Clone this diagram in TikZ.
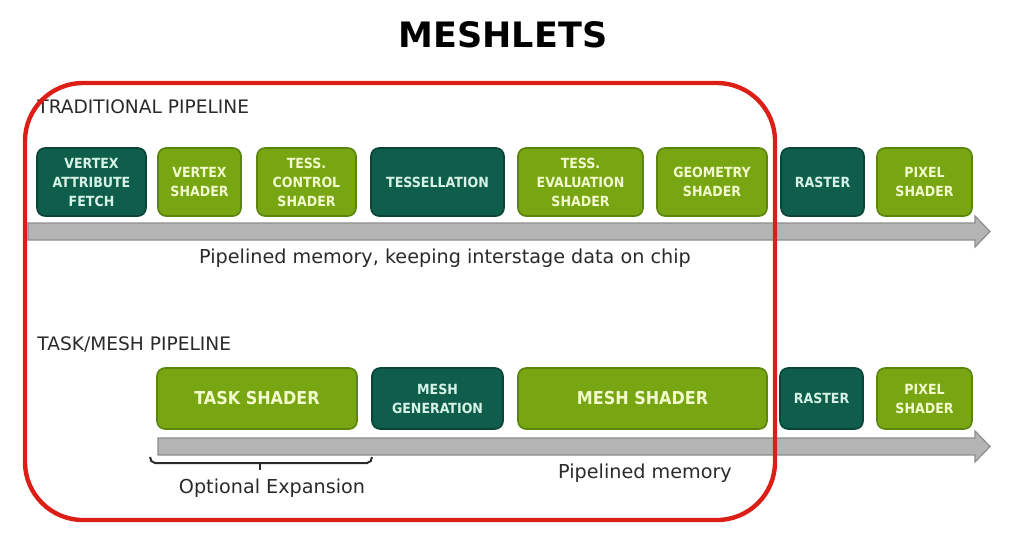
\documentclass[tikz,border=0pt]{standalone}
\usepackage{fontspec}
\setmainfont{DejaVu Sans}
\newfontfamily\boxfont{DejaVu Sans Condensed}
\usetikzlibrary{positioning}

\definecolor{darkstage}{HTML}{0F5E4C}
\definecolor{darkedge}{HTML}{0A4438}
\definecolor{lightstage}{HTML}{77A612}
\definecolor{lightedge}{HTML}{5C850B}
\definecolor{darktext}{HTML}{D6F2E6}
\definecolor{lighttext}{HTML}{F2FACD}
\definecolor{memgray}{HTML}{B4B4B4}
\definecolor{memedge}{HTML}{8E8E8E}
\definecolor{labelgray}{HTML}{2A2A2A}
\definecolor{meshred}{HTML}{DC1F16}

\tikzset{
  stage/.style={rounded corners=4pt, line width=0.8pt, align=center, inner sep=1pt,
    font=\boxfont\bfseries\fontsize{7}{9.5}\selectfont},
  fixedstage/.style={stage, fill=darkstage, draw=darkedge, text=darktext},
  shaderstage/.style={stage, fill=lightstage, draw=lightedge, text=lighttext},
  bigstage/.style={font=\boxfont\bfseries\fontsize{8.9}{11}\selectfont},
  memarrow/.style={fill=memgray, draw=memedge, line width=0.6pt},
  sectionlabel/.style={anchor=west, inner sep=0pt, text=labelgray, font=\fontsize{9.3}{11}\selectfont},
  memlabel/.style={inner sep=0pt, text=labelgray, font=\fontsize{9.6}{11}\selectfont}
}

\begin{document}
\begin{tikzpicture}[x=0.5pt, y=-0.5pt]
  \useasboundingbox (0,0) rectangle (1031,558);

  \node[font=\bfseries\fontsize{17.5}{20}\selectfont] (title) at (503,35) {MESHLETS};

  % traditional pipeline
  \node[sectionlabel] (tradlabel) at (37,107) {TRADITIONAL PIPELINE};
  \draw[memarrow] (28,223) -- (975,223) -- (975,216) -- (990,231.5) -- (975,247) -- (975,240) -- (28,240) -- cycle;
  \node[fixedstage, minimum width=54.5pt, minimum height=34pt] (vaf) at (91.5,182) {VERTEX\\ATTRIBUTE\\FETCH};
  \node[shaderstage, minimum width=41.5pt, minimum height=34pt] (vs) at (199.5,182) {VERTEX\\SHADER};
  \node[shaderstage, minimum width=49.5pt, minimum height=34pt] (tcs) at (306.5,182) {TESS.\\CONTROL\\SHADER};
  \node[fixedstage, minimum width=66.5pt, minimum height=34pt] (tess) at (437.5,182) {TESSELLATION};
  \node[shaderstage, minimum width=62.5pt, minimum height=34pt] (tes) at (580.5,182) {TESS.\\EVALUATION\\SHADER};
  \node[shaderstage, minimum width=55pt, minimum height=34pt] (gs) at (712,182) {GEOMETRY\\SHADER};
  \node[fixedstage, minimum width=41.5pt, minimum height=34pt] (rast) at (822.5,182) {RASTER};
  \node[shaderstage, minimum width=47.5pt, minimum height=34pt] (ps) at (924.5,182) {PIXEL\\SHADER};
  \node[memlabel] (tradmem) at (445,258) {Pipelined memory, keeping interstage data on chip};

  % task/mesh pipeline
  \node[sectionlabel] (meshlabel) at (37,344) {TASK/MESH PIPELINE};
  \draw[memarrow] (158,438) -- (975,438) -- (975,431) -- (990,446.5) -- (975,462) -- (975,455) -- (158,455) -- cycle;
  \node[shaderstage, bigstage, minimum width=100pt, minimum height=30.5pt] (task) at (257,398.5) {TASK SHADER};
  \node[fixedstage, minimum width=65.5pt, minimum height=30.5pt] (meshgen) at (437.5,398.5) {MESH\\GENERATION};
  \node[shaderstage, bigstage, minimum width=124.5pt, minimum height=30.5pt] (mesh) at (642.5,398.5) {MESH SHADER};
  \node[fixedstage, minimum width=41.5pt, minimum height=30.5pt] (rast2) at (821.5,398.5) {RASTER};
  \node[shaderstage, minimum width=47.5pt, minimum height=30.5pt] (ps2) at (924.5,398.5) {PIXEL\\SHADER};

  % optional expansion bracket
  \coordinate (bl) at (150,457);
  \coordinate (br) at (372,457);
  \coordinate (bmid) at (260,463);
  \draw[labelgray, line width=1pt] (bl) to[out=-90,in=180] (155,463) -- (367,463) to[out=0,in=-90] (br);
  \draw[labelgray, line width=1pt] (bmid) -- ++(0,7);
  \node[memlabel] (optlabel) at (272,488) {Optional Expansion};
  \node[memlabel] (meshmem) at (645,473) {Pipelined memory};

  % meshlet region
  \draw[meshred, line width=2.2pt, rounded corners=29pt] (25,83) rectangle (775,520);
\end{tikzpicture}
\end{document}
